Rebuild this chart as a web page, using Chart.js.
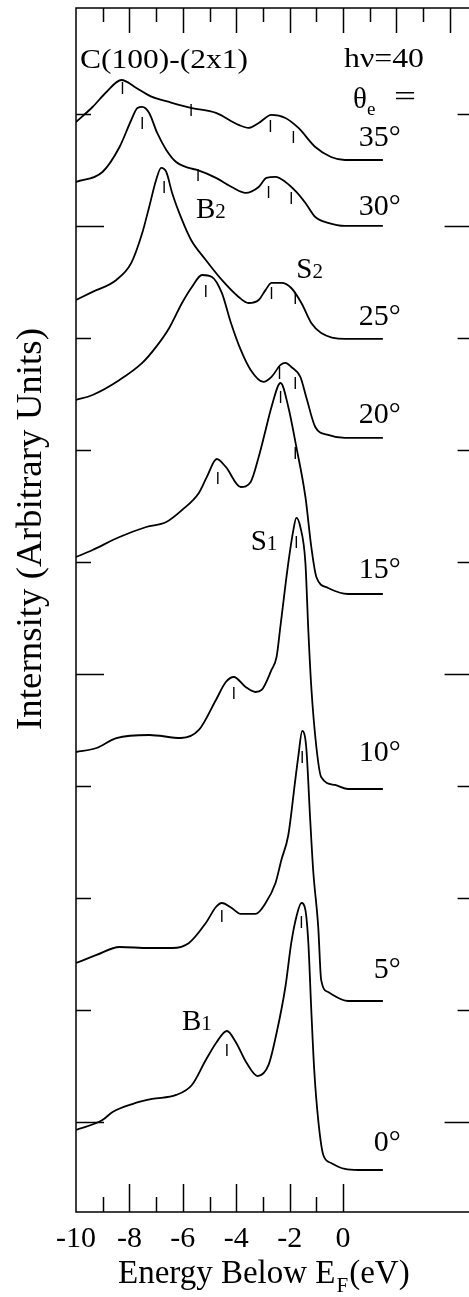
<!DOCTYPE html>
<html><head><meta charset="utf-8">
<script src="https://cdn.jsdelivr.net/npm/chart.js@4.4.1/dist/chart.umd.min.js"></script>
<style>html,body{margin:0;padding:0;background:#fff;overflow:hidden;width:469px;height:1297px}
#wrap{position:absolute;left:0;top:0;width:480px;height:1297px}</style></head>
<body><div id="wrap"><canvas id="c" width="480" height="1297"></canvas></div>
<script>
// ---- data ----
const angleLabels = ['35°','30°','25°','20°','15°','10°','5°','0°'];
const baselines   = [93.93, 88.04, 77.95, 69.11, 55.18, 37.77, 18.84, 3.75];
const labelLevels = [95.89, 89.73, 79.91, 71.16, 57.32, 40.98, 21.61, 6.16];

const energy35 = [-10.0,-9.38,-8.86,-8.30,-7.74,-7.15,-6.51,-5.66,-4.76,-3.91,-3.54,-3.16,-2.68,-2.16,-1.67,-1.04,-0.45,0.07,1.49];
const intensity35 = [3.39,4.73,6.07,7.14,6.43,5.63,5.18,4.64,4.20,3.13,2.86,3.30,4.02,3.75,2.86,1.16,0.27,0,0];

const energy30 = [-10.0,-9.01,-8.37,-7.93,-7.70,-7.52,-7.26,-6.96,-6.62,-6.25,-5.77,-5.47,-4.76,-4.17,-3.65,-3.16,-2.87,-2.53,-2.16,-1.75,-1.41,-1.04,-0.56,0.07,1.49];
const intensity30 = [3.93,4.82,7.05,9.46,10.54,10.63,10.09,8.30,6.79,5.71,5.18,5.00,4.29,3.48,2.95,3.48,4.29,4.38,3.93,3.04,2.05,0.80,0.27,0,0];

const energy25 = [-10.0,-9.38,-8.49,-7.93,-7.52,-7.26,-7.00,-6.81,-6.62,-6.40,-6.03,-5.69,-5.14,-4.54,-3.91,-3.54,-3.16,-2.90,-2.68,-2.31,-1.94,-1.56,-1.19,-0.82,0.07,1.49];
const intensity25 = [3.48,4.20,5.27,6.79,9.46,11.79,14.20,15.27,14.91,13.04,10.63,8.84,7.05,5.27,3.75,3.21,3.48,4.38,5.00,5.00,4.55,3.21,1.43,0.54,0,0];

const energy20 = [-10.0,-9.38,-8.37,-7.52,-7.00,-6.51,-6.03,-5.66,-5.28,-4.91,-4.54,-4.21,-3.83,-3.46,-2.98,-2.68,-2.34,-2.16,-1.94,-1.60,-1.38,-1.04,-0.56,0.07,1.49];
const intensity20 = [3.39,3.84,5.18,6.70,8.13,9.82,12.05,13.48,14.55,14.38,12.95,10.36,7.86,6.07,5.00,5.45,6.52,6.70,6.34,5.45,3.66,0.98,0.27,0,0];

const energy15 = [-10.0,-9.38,-8.37,-7.37,-6.62,-6.03,-5.40,-5.10,-4.73,-4.39,-3.83,-3.46,-3.16,-2.90,-2.68,-2.34,-2.05,-1.75,-1.41,-1.19,-1.00,-0.56,0.19,1.49];
const intensity15 = [3.30,3.93,5.09,5.98,6.43,7.50,9.02,10.45,12.05,11.34,9.55,10.00,12.23,14.64,16.70,18.84,16.70,13.13,8.66,4.20,1.52,0.54,0,0];

const energy10 = [-10.0,-9.23,-8.49,-7.26,-6.07,-5.40,-4.76,-4.39,-4.09,-3.65,-3.28,-3.05,-2.68,-2.49,-2.34,-2.05,-1.86,-1.75,-1.60,-1.41,-1.30,-1.19,-1.00,-0.82,-0.30,0.19,1.49];
const intensity10 = [3.30,3.66,4.55,4.82,4.55,5.27,7.95,9.55,10.00,9.11,8.66,8.84,10.63,11.79,14.64,20.18,23.13,24.20,23.39,20.18,14.11,9.11,3.75,1.07,0.36,0,0];

const energy5 = [-10.0,-9.23,-8.37,-7.26,-6.40,-5.77,-5.14,-4.76,-4.54,-4.17,-3.83,-3.28,-2.90,-2.53,-2.31,-2.05,-1.79,-1.67,-1.53,-1.38,-1.23,-1.12,-0.93,-0.82,-0.56,0.19,1.49];
const intensity5 = [3.39,4.11,4.82,4.73,4.73,5.18,6.96,8.39,8.75,8.30,7.77,7.77,8.75,10.54,12.59,14.82,19.73,21.96,24.11,22.68,16.16,11.70,6.61,1.88,0.80,0,0];

const energy0 = [-10.0,-9.01,-8.63,-7.89,-7.15,-6.25,-5.66,-5.14,-4.73,-4.35,-4.02,-3.61,-3.20,-2.79,-2.49,-2.16,-1.94,-1.75,-1.56,-1.41,-1.30,-1.19,-1.08,-0.93,-0.74,-0.45,0.07,0.56,1.49];
const intensity0 = [3.57,4.46,5.18,5.89,6.34,6.70,7.59,9.82,11.43,12.41,11.43,9.55,8.39,9.38,12.23,16.34,20.27,22.59,23.84,23.21,20.27,14.29,8.93,4.46,1.34,0.63,0.09,0,0];

const markerEnergy = [-8.26,-5.69,-2.72,-1.86, -7.52,-5.43,-2.79,-1.94, -6.70,-2.68,-1.79, -5.14,-2.38,-1.79, -4.69,-2.34,-1.79, -1.75,-4.09, -1.53,-4.54, -4.35,-1.56];
const markerLevel  = [100.36,98.39,96.96,95.98, 97.23,92.59,91.07,90.54, 91.52,82.05,81.61, 82.23,74.91,74.02, 65.54,72.77,67.77, 59.82,46.34, 40.63,26.43, 14.46,25.89];

const peakNames  = ['B','S','S','B'];
const peakSubs   = ['2','2','1','1'];
const peakEnergy = [-5.51,-1.75,-3.46,-6.03];
const peakLevel  = [89.64,84.29,60.0,17.14];

const xTickValues = [-10,-8,-6,-4,-2,0];
const xTickLabels = ['-10','-8','-6','-4','-2','0'];
const bottomTickValues = [-9,-8,-7,-6,-5,-4,-3,-2,-1,0];
const topTickValues = [-9,-8,-7,-6,-5,-4,-3,-2,-1,0,1,2,3,4];
const yTickValues = [8,18,28,38,48,58,68,78,88,98];
const yMajorTicks = [8,48,88];

// ---- chart ----
const series = [[energy35,intensity35],[energy30,intensity30],[energy25,intensity25],[energy20,intensity20],
                [energy15,intensity15],[energy10,intensity10],[energy5,intensity5],[energy0,intensity0]];
const datasets = series.map(([e,inten],k)=>({
  label: angleLabels[k],
  data: e.map((v,j)=>({x:v, y:inten[j]+baselines[k]})),
  showLine:true, borderColor:'#000', borderWidth:1.8, pointRadius:0, fill:false,
  cubicInterpolationMode:'monotone'
}));
datasets.push({
  label:'markers',
  data: markerEnergy.map((v,j)=>({x:v,y:markerLevel[j]})),
  showLine:false, pointStyle:'line', rotation:90, pointRadius:6,
  borderColor:'#000', backgroundColor:'#000', borderWidth:1.4
});

const FONT = '"Liberation Serif","Times New Roman",serif';
function txt(ctx, s, x, y, size, align, base, fitW){
  ctx.save();
  ctx.font = size+'px '+FONT; ctx.fillStyle='#000';
  ctx.textAlign = align||'left'; ctx.textBaseline = base||'middle';
  if (fitW){ const w = ctx.measureText(s).width; ctx.translate(x,y); ctx.scale(fitW/w,1); ctx.fillText(s,0,0); }
  else ctx.fillText(s,x,y);
  ctx.restore();
}
function width(ctx, s, size){ ctx.save(); ctx.font = size+'px '+FONT; const w = ctx.measureText(s).width; ctx.restore(); return w; }

const decor = {
  id:'decor',
  afterDraw(chart){
    const {ctx, chartArea:a, scales:{x,y}} = chart;
    ctx.save();
    ctx.strokeStyle='#000'; ctx.lineWidth=1.5;
    ctx.strokeRect(a.left, a.top, a.right-a.left, a.bottom-a.top);
    ctx.beginPath();
    for (const v of bottomTickValues){ const px=Math.round(x.getPixelForValue(v))+0.5; const L=(v%2===0)?28:15; ctx.moveTo(px,a.bottom); ctx.lineTo(px,a.bottom-L); }
    for (const v of topTickValues){ const px=Math.round(x.getPixelForValue(v))+0.5; const L=(v%2===0)?25:14; ctx.moveTo(px,a.top); ctx.lineTo(px,a.top+L); }
    for (const v of yTickValues){ const py=Math.round(y.getPixelForValue(v))+0.5; const L=yMajorTicks.includes(v)?28:15;
      ctx.moveTo(a.left,py); ctx.lineTo(a.left+L,py); ctx.moveTo(a.right,py); ctx.lineTo(a.right-L,py); }
    ctx.stroke();
    ctx.restore();

    // x tick labels
    xTickValues.forEach((v,i)=> txt(ctx, xTickLabels[i], x.getPixelForValue(v), a.bottom+27, 30, 'center', 'middle'));
    // x title
    let px = 118, base = 1283;
    txt(ctx, 'Energy Below E', px, base, 33, 'left', 'alphabetic');
    px += width(ctx,'Energy Below E',33);
    txt(ctx, 'F', px+1, base+9, 21, 'left', 'alphabetic');
    px += width(ctx,'F',21)+2;
    txt(ctx, '(eV)', px, base, 33, 'left', 'alphabetic');
    // y title
    ctx.save(); ctx.translate(41, 529); ctx.rotate(-Math.PI/2);
    txt(ctx, 'Internsity (Arbitrary Units)', 0, 0, 36, 'center', 'alphabetic', 402);
    ctx.restore();

    // angle labels
    angleLabels.forEach((s,i)=> txt(ctx, s, x.getPixelForValue(2.16), y.getPixelForValue(labelLevels[i]), 30, 'right', 'middle'));
    // peak labels
    peakNames.forEach((s,i)=>{
      const lx = x.getPixelForValue(peakEnergy[i]), ly = y.getPixelForValue(peakLevel[i]) + 10;
      txt(ctx, s, lx, ly, 29, 'left', 'alphabetic');
      txt(ctx, peakSubs[i], lx + width(ctx,s,29), ly, 21, 'left', 'alphabetic');
    });
    // header texts
    txt(ctx, 'C(100)-(2x1)', 80, 68, 27, 'left', 'alphabetic', 168);
    txt(ctx, 'hν=40', 344, 67, 28, 'left', 'alphabetic', 80);
    txt(ctx, 'θ', 353, 108, 29, 'left', 'alphabetic');
    txt(ctx, 'e', 367, 115, 19, 'left', 'alphabetic');
    txt(ctx, '=', 394, 106, 29, 'left', 'alphabetic', 22);
  }
};

new Chart(document.getElementById('c'), {
  type:'scatter',
  data:{datasets},
  options:{
    responsive:false, animation:false, devicePixelRatio:1,
    layout:{padding:{left:76, right:5, top:8, bottom:85}},
    plugins:{legend:{display:false}, tooltip:{enabled:false}},
    scales:{
      x:{type:'linear', min:-10, max:4.85, display:false},
      y:{type:'linear', min:0, max:107.5, display:false}
    }
  },
  plugins:[decor]
});
</script></body></html>
